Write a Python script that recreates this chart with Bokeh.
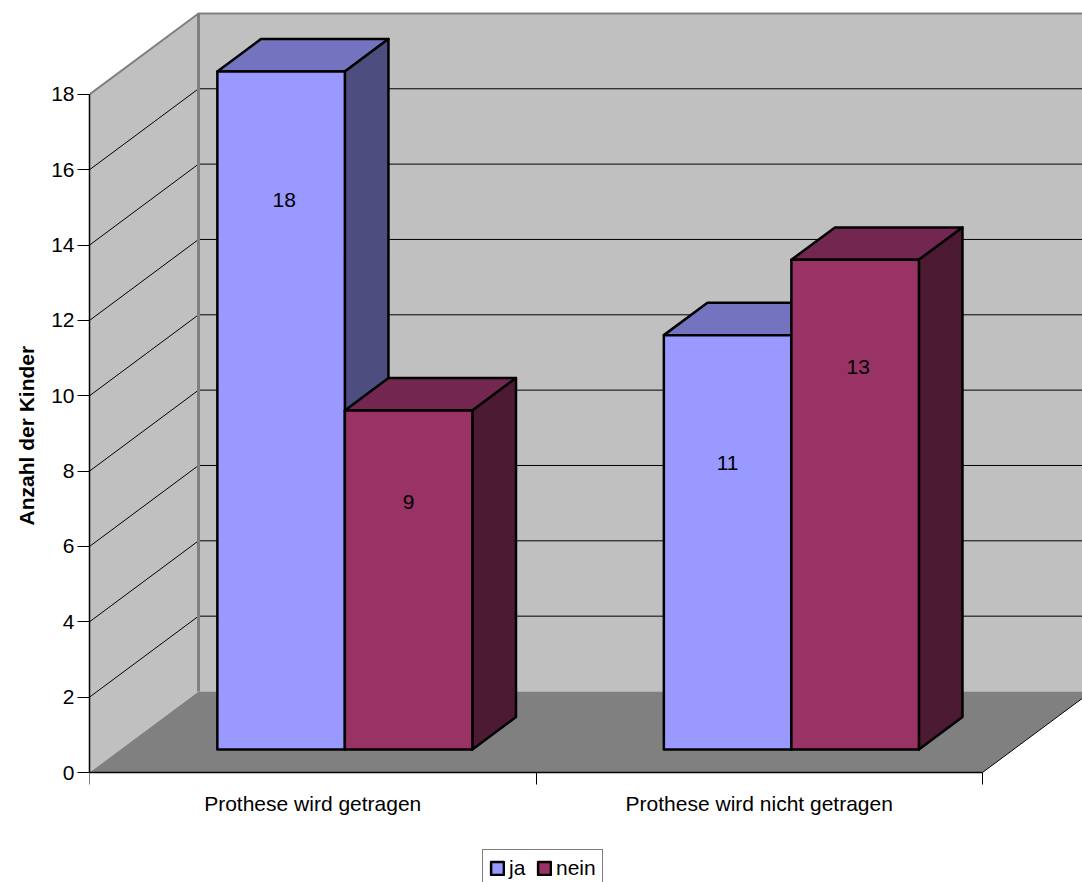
from bokeh.core.properties import value
from bokeh.embed import file_html
from bokeh.models import ColumnDataSource, FixedTicker, Legend, LegendItem, Range1d, Title
from bokeh.plotting import figure
from bokeh.resources import INLINE

# Chart data
categories = ["Prothese wird getragen", "Prothese wird nicht getragen"]
series_names = ["ja", "nein"]
ja_values = [18, 11]
nein_values = [9, 13]
y_ticks = [0, 2, 4, 6, 8, 10, 12, 14, 16, 18]
y_title = "Anzahl der Kinder"

# Fill colours per series: front, top, side
series_colors = [("#9999FF", "#7373BF", "#4D4D80"), ("#993366", "#732650", "#4D1A33")]

# Oblique projection: a point at depth 1 shifts by this much in data units
DEPTH_X = 109 / 446.5
DEPTH_Y = 81 / 37.67
X_MAX = 993 / 446.5
Y_MAX = 772 / 37.67
Y_MIN = -110 / 37.67
Y_TOP = 18

BAR_START = 0.217
BAR_WIDTH = 0.2856
BAR_DEPTH_NEAR = 0.284
BAR_DEPTH_FAR = 0.684

FONT = "Liberation Sans"
FONT_SIZE = "21px"

# Where each value label sits, as a shift from the bar's front-face centre
label_shift_x = [[0.007, 0.0], [0.0, 0.007]]
label_height = [[14.6, 6.56], [7.6, 10.15]]


def project(x, y, depth):
    return x + depth * DEPTH_X, y + depth * DEPTH_Y


def face(points):
    xs, ys = zip(*[project(*pt) for pt in points])
    return list(xs), list(ys)


p = figure(
    width=1082, height=882, output_backend="svg", toolbar_location=None,
    x_range=Range1d(0, X_MAX), y_range=Range1d(Y_MIN, Y_MAX),
    min_border_left=89, min_border_right=0, min_border_top=0, min_border_bottom=0,
    background_fill_color="white", border_fill_color="white",
)
p.outline_line_color = None
p.grid.visible = False

# Walls and floor
WALL = "#C0C0C0"
EDGE = "#808080"
xs, ys = face([(0, 0, 0), (0, Y_TOP, 0), (0, Y_TOP, 1), (0, 0, 1)])
p.patch(xs, ys, fill_color=WALL, line_color=None)
xs, ys = face([(0, 0, 1), (0, Y_TOP, 1), (3, Y_TOP, 1), (3, 0, 1)])
p.patch(xs, ys, fill_color=WALL, line_color=None)
xs, ys = face([(0, 0, 0), (2, 0, 0), (2, 0, 1), (0, 0, 1)])
p.patch(xs, ys, fill_color=EDGE, line_color=None)

# Gridlines run along the left wall and across the back wall
for tick in y_ticks[1:-1]:
    xs, ys = face([(0, tick, 0), (0, tick, 1), (3, tick, 1)])
    p.line(xs, ys, line_color="black", line_width=1)

# Wall edges and the open side of the floor
xs, ys = face([(0, Y_TOP, 0), (0, Y_TOP, 1), (3, Y_TOP, 1)])
p.line(xs, ys, line_color=EDGE, line_width=2)
xs, ys = face([(0, 0, 1), (0, Y_TOP, 1)])
p.line(xs, ys, line_color=EDGE, line_width=3)
xs, ys = face([(2, 0, 0), (2, 0, 1)])
p.line(xs, ys, line_color="black", line_width=1)

# Bars, painted back to front within each category
legend_renderers = {}
labels = {"x": [], "y": [], "text": []}
BAR_LINE = dict(line_color="black", line_width=2.5, line_join="round")
for c in range(len(categories)):
    for s, vals in enumerate([ja_values, nein_values]):
        v = vals[c]
        x0 = c + BAR_START + s * BAR_WIDTH
        x1 = x0 + BAR_WIDTH
        front_col, top_col, side_col = series_colors[s]
        near, far = BAR_DEPTH_NEAR, BAR_DEPTH_FAR
        xs, ys = face([(x0, v, near), (x0, v, far), (x1, v, far), (x1, v, near)])
        p.patch(xs, ys, fill_color=top_col, **BAR_LINE)
        xs, ys = face([(x1, 0, near), (x1, v, near), (x1, v, far), (x1, 0, far)])
        p.patch(xs, ys, fill_color=side_col, **BAR_LINE)
        xs, ys = face([(x0, 0, near), (x0, v, near), (x1, v, near), (x1, 0, near)])
        legend_renderers[s] = p.patch(xs, ys, fill_color=front_col, **BAR_LINE)
        lx, ly = project((x0 + x1) / 2 + label_shift_x[c][s], label_height[c][s], near)
        labels["x"].append(lx)
        labels["y"].append(ly)
        labels["text"].append(str(v))

p.text("x", "y", text="text", source=ColumnDataSource(labels), text_align="center",
       text_baseline="middle", text_font=value(FONT), text_font_size=FONT_SIZE,
       text_color="black")

# Axes are lifted above the wall fills so their lines stay fully black
yax = p.yaxis[0]
yax.level = "annotation"
yax.ticker = FixedTicker(ticks=y_ticks)
yax.bounds = (0, Y_TOP)
yax.axis_line_color = "black"
yax.axis_line_width = 1.5
yax.major_tick_line_color = "black"
yax.major_tick_in = 0
yax.major_tick_out = 12
yax.minor_tick_line_color = None
yax.major_label_text_font = FONT
yax.major_label_text_font_size = FONT_SIZE
yax.major_label_text_color = "black"
yax.major_label_standoff = 3

# The value-axis title starts from the plot's lower edge, lifted to centre on the drawn axis
p.add_layout(
    Title(text=y_title, align="left", vertical_align="top", offset=357, standoff=17,
          text_font=FONT, text_font_size=FONT_SIZE, text_font_style="bold", text_color="black"),
    "left",
)

# The category axis sits on the value 0 so the space below it stays in the plot area
xax = p.xaxis[0]
xax.level = "annotation"
xax.fixed_location = 0
xax.ticker = FixedTicker(ticks=[0.5, 1.5], minor_ticks=[0, 1, 2])
xax.bounds = (0, 2)
xax.major_label_overrides = {0.5: categories[0], 1.5: categories[1]}
xax.axis_line_color = "black"
xax.axis_line_width = 1.5
xax.major_tick_line_color = None
xax.minor_tick_in = 0
xax.minor_tick_out = 12
xax.minor_tick_line_color = "black"
xax.major_label_text_font = FONT
xax.major_label_text_font_size = FONT_SIZE
xax.major_label_text_color = "black"
xax.major_label_standoff = 7

legend = Legend(
    items=[LegendItem(label=series_names[s], renderers=[legend_renderers[s]]) for s in (0, 1)],
    location=(393, -5), orientation="horizontal",
    label_text_font=FONT, label_text_font_size=FONT_SIZE, label_text_color="black",
    border_line_color="black", background_fill_color="white", background_fill_alpha=1,
    glyph_width=16, glyph_height=16, spacing=7, padding=6, margin=0, label_standoff=4,
)
p.add_layout(legend, "center")

open("out.html", "w").write(file_html(p, INLINE))
